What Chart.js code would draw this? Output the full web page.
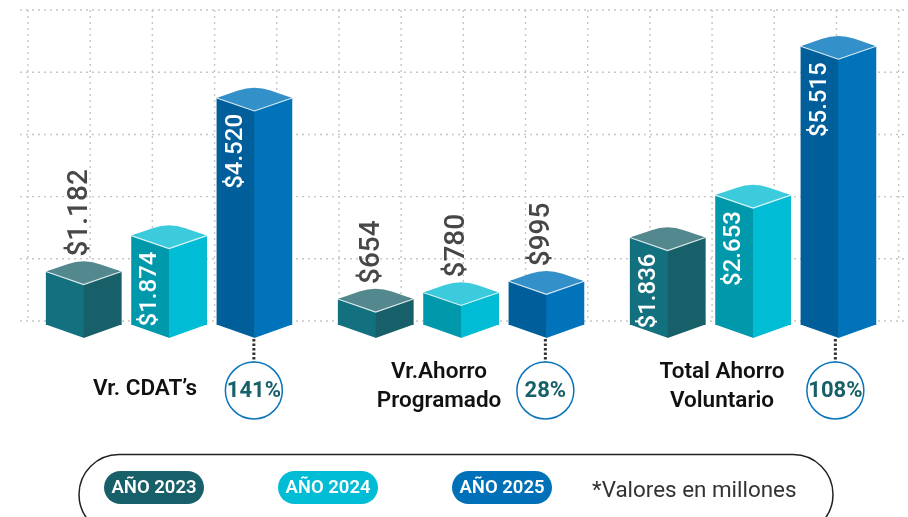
<!DOCTYPE html>
<html>
<head>
<meta charset="utf-8">
<style>html,body{margin:0;padding:0;background:#fff}canvas{display:block}</style>
<script src="https://cdn.jsdelivr.net/npm/chart.js@4"></script>
</head>
<body>
<canvas id="c" width="908" height="517"></canvas>
<script>
const categories = [["Vr. CDAT’s"], ["Vr.Ahorro", "Programado"], ["Total Ahorro", "Voluntario"]];
const years = ["AÑO 2023", "AÑO 2024", "AÑO 2025"];
const values2023 = [1182, 654, 1836];
const values2024 = [1874, 780, 2653];
const values2025 = [4520, 995, 5515];
const growth = ["141%", "28%", "108%"];
const valueLabels2023 = ["$1.182", "$654", "$1.836"];
const valueLabels2024 = ["$1.874", "$780", "$2.653"];
const valueLabels2025 = ["$4.520", "$995", "$5.515"];
const gridValues = [231, 1427, 2623, 3819, 5015, 6211];
const note = "*Valores en millones";

const FONT = 'Roboto, "Open Sans", sans-serif';
const palettes = [
  {left:"#13717f", right:"#186069", topIn:"#54888f", topOut:"#2a6f7a", pill:"#186069"},
  {left:"#0099ab", right:"#00bcd4", topIn:"#3ccbdc", topOut:"#18b8cc", pill:"#00bcd4"},
  {left:"#005f9a", right:"#0073bb", topIn:"#3490c8", topOut:"#1678b6", pill:"#0070b8"}
];
const labelSets = [valueLabels2023, valueLabels2024, valueLabels2025];
const captionShift = [-24, -22, -31];
const badgeShift = [-0.5, -1, -3];

function diamondTop(ctx, L, R, y, rise) {
  const cx = (L + R) / 2;
  ctx.beginPath();
  ctx.moveTo(L, y);
  ctx.lineTo(cx, y + rise);
  ctx.lineTo(R, y);
  ctx.arcTo(cx, y - rise, L, y, 50);
  ctx.lineTo(L, y);
  ctx.closePath();
}

const cuboidPlugin = {
  id: "cuboid",
  beforeDatasetsDraw(chart) {
    const {ctx} = chart;
    const ys = chart.scales.y;
    const pix = gridValues.map(v => ys.getPixelForValue(v));
    const pitch = pix[0] - pix[1];
    ctx.save();
    ctx.strokeStyle = "#c6c6c6";
    ctx.lineWidth = 1.4;
    ctx.setLineDash([2, 4]);
    pix.forEach(y => {
      ctx.beginPath(); ctx.moveTo(20, y); ctx.lineTo(908, y); ctx.stroke();
    });
    for (let x = 28; x < 908; x += pitch) {
      ctx.beginPath(); ctx.moveTo(x, pix[pix.length - 1]); ctx.lineTo(x, pix[0]); ctx.stroke();
    }
    ctx.restore();
  },
  afterDatasetsDraw(chart) {
    const {ctx} = chart;
    const base = chart.scales.y.getPixelForValue(chart.scales.y.min);
    chart.data.datasets.forEach((ds, di) => {
      const pal = palettes[di];
      chart.getDatasetMeta(di).data.forEach((bar, i) => {
        const L = bar.x - bar.width / 2, R = bar.x + bar.width / 2, cx = bar.x;
        const top = bar.y;
        const rise = bar.width * 0.172;
        ctx.save();
        // right face
        ctx.fillStyle = pal.right;
        ctx.fillRect(cx, top, R - cx, base - top);
        // lower chevrons
        ctx.fillStyle = pal.left;
        ctx.beginPath(); ctx.moveTo(L, base - .5); ctx.lineTo(cx + .5, base - .5); ctx.lineTo(cx + .5, base + rise); ctx.closePath(); ctx.fill();
        ctx.fillStyle = pal.right;
        ctx.beginPath(); ctx.moveTo(R, base - .5); ctx.lineTo(cx, base - .5); ctx.lineTo(cx, base + rise); ctx.closePath(); ctx.fill();
        // upper diamond
        const g = ctx.createRadialGradient(cx, top - 2, 4, cx, top - 2, bar.width * .55);
        g.addColorStop(0, pal.topIn);
        g.addColorStop(.7, pal.topIn);
        g.addColorStop(1, pal.topOut);
        diamondTop(ctx, L, R, top, rise);
        ctx.fillStyle = g;
        ctx.fill();
        // highlight on the front edges
        ctx.strokeStyle = "rgba(255,255,255,.85)";
        ctx.lineWidth = 1.2;
        ctx.beginPath(); ctx.moveTo(L, top); ctx.lineTo(cx, top + rise); ctx.lineTo(R, top); ctx.stroke();
        // value label
        const big = ds.data[i] > 1500;
        ctx.translate(big ? L + 18 : cx - 5, big ? top + 16 : top - rise - 2);
        ctx.rotate(-Math.PI / 2);
        ctx.textBaseline = "middle";
        if (big) {
          ctx.textAlign = "right"; ctx.fillStyle = "#fff"; ctx.font = "500 24px " + FONT;
        } else {
          ctx.textAlign = "left"; ctx.fillStyle = "#474747"; ctx.font = "500 28px " + FONT;
        }
        ctx.fillText(labelSets[di][i], 0, 1);
        ctx.restore();
      });
    });

    // captions, circles, connectors
    const last = chart.getDatasetMeta(2).data;
    const xs = chart.scales.x;
    categories.forEach((lines, i) => {
      const bar = last[i];
      const bx = bar.x + badgeShift[i];
      const tip = base + bar.width * .172;
      const cy = 390.5, r = 28.5;
      ctx.save();
      ctx.strokeStyle = "#333";
      ctx.lineWidth = 3;
      ctx.setLineDash([2.5, 2]);
      ctx.beginPath(); ctx.moveTo(bx, tip + 1); ctx.lineTo(bx, cy - r); ctx.stroke();
      ctx.setLineDash([]);
      ctx.strokeStyle = "#0a75bb";
      ctx.lineWidth = 1.5;
      ctx.beginPath(); ctx.arc(bx, cy, r, 0, Math.PI * 2); ctx.stroke();
      ctx.fillStyle = "#186069";
      ctx.font = "700 22px " + FONT;
      ctx.textAlign = "center"; ctx.textBaseline = "middle";
      ctx.fillText(growth[i], bx, cy + 1);
      ctx.fillStyle = "#111";
      ctx.font = "600 22.5px " + FONT;
      const gx = xs.getPixelForValue(i) + captionShift[i];
      const y0 = lines.length === 1 ? 389 : 372;
      lines.forEach((t, k) => ctx.fillText(t, gx, y0 + k * 29));
      ctx.restore();
    });

    // legend panel
    ctx.save();
    ctx.strokeStyle = "#222";
    ctx.lineWidth = 1.5;
    ctx.beginPath();
    ctx.roundRect(79, 454.5, 754, 80, 40);
    ctx.stroke();
    const pillX = [104, 278, 452];
    years.forEach((t, i) => {
      ctx.fillStyle = palettes[i].pill;
      ctx.beginPath();
      ctx.roundRect(pillX[i], 471, 100, 33, 16.5);
      ctx.fill();
      ctx.fillStyle = "#fff";
      ctx.font = "600 18.5px " + FONT;
      ctx.textAlign = "center"; ctx.textBaseline = "middle";
      ctx.fillText(t, pillX[i] + 50, 488);
    });
    ctx.fillStyle = "#333";
    ctx.font = "400 22.4px " + FONT;
    ctx.textAlign = "left";
    ctx.fillText(note, 592, 491);
    ctx.restore();
  }
};

new Chart(document.getElementById("c"), {
  type: "bar",
  data: {
    labels: categories.map(l => l.join(" ")),
    datasets: [values2023, values2024, values2025].map((d, i) => ({
      label: years[i], data: d, backgroundColor: palettes[i].left, borderWidth: 0,
      categoryPercentage: 0.877, barPercentage: 0.885
    }))
  },
  options: {
    responsive: false,
    animation: false,
    layout: {padding: {left: 23, right: 9, top: 10, bottom: 192}},
    plugins: {legend: {display: false}, tooltip: {enabled: false}},
    scales: {
      x: {display: false},
      y: {display: false, min: 154, max: 6212}
    }
  },
  plugins: [cuboidPlugin]
});
</script>
</body>
</html>
